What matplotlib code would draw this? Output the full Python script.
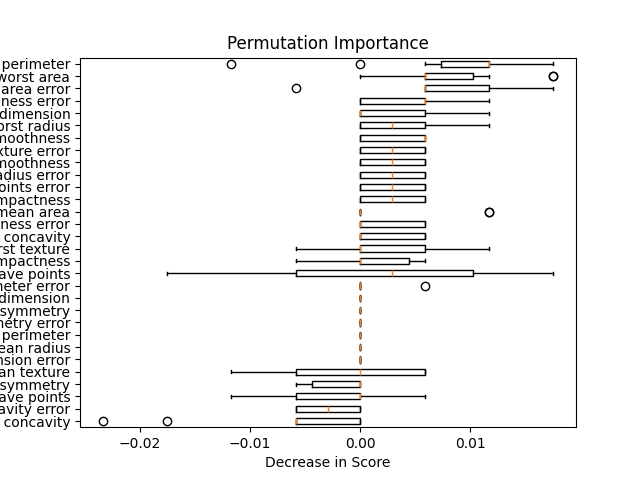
import numpy as np
import matplotlib
matplotlib.use("Agg")
import matplotlib.pyplot as plt

# test set size: every score drop is a whole number of misclassified samples
n_test = 171

# features from top to bottom, with the 10 repeats (in samples) per feature
features = [
    "worst perimeter", "worst area", "area error", "smoothness error",
    "worst fractal dimension", "worst radius", "worst smoothness",
    "texture error", "mean smoothness", "radius error",
    "concave points error", "mean compactness", "mean area",
    "compactness error", "mean concavity", "worst texture",
    "worst compactness", "worst concave points", "perimeter error",
    "mean fractal dimension", "mean symmetry", "symmetry error",
    "mean perimeter", "mean radius", "fractal dimension error",
    "mean texture", "worst symmetry", "mean concave points",
    "concavity error", "worst concavity",
]

repeats = [
    [-2, 0, 1, 2, 2, 2, 2, 2, 2, 3],
    [0, 1, 1, 1, 1, 1, 1, 2, 3, 3],
    [-1, 1, 1, 1, 1, 1, 2, 2, 2, 3],
    [0, 0, 0, 0, 1, 1, 1, 1, 1, 2],
    [0, 0, 0, 0, 0, 0, 1, 1, 1, 2],
    [0, 0, 0, 0, 0, 1, 1, 1, 1, 2],
    [0, 0, 0, 0, 1, 1, 1, 1, 1, 1],
    [0, 0, 0, 0, 0, 1, 1, 1, 1, 1],
    [0, 0, 0, 0, 0, 1, 1, 1, 1, 1],
    [0, 0, 0, 0, 0, 1, 1, 1, 1, 1],
    [0, 0, 0, 0, 0, 1, 1, 1, 1, 1],
    [0, 0, 0, 0, 0, 1, 1, 1, 1, 1],
    [0, 0, 0, 0, 0, 0, 0, 0, 2, 2],
    [0, 0, 0, 0, 0, 0, 1, 1, 1, 1],
    [0, 0, 0, 0, 0, 0, 1, 1, 1, 1],
    [-1, 0, 0, 0, 0, 0, 1, 1, 1, 2],
    [-1, 0, 0, 0, 0, 0, 0, 1, 1, 1],
    [-3, -1, -1, -1, 0, 1, 1, 2, 2, 3],
    [0, 0, 0, 0, 0, 0, 0, 0, 0, 1],
    [0, 0, 0, 0, 0, 0, 0, 0, 0, 0],
    [0, 0, 0, 0, 0, 0, 0, 0, 0, 0],
    [0, 0, 0, 0, 0, 0, 0, 0, 0, 0],
    [0, 0, 0, 0, 0, 0, 0, 0, 0, 0],
    [0, 0, 0, 0, 0, 0, 0, 0, 0, 0],
    [0, 0, 0, 0, 0, 0, 0, 0, 0, 0],
    [-2, -1, -1, -1, 0, 0, 1, 1, 1, 1],
    [-1, -1, -1, 0, 0, 0, 0, 0, 0, 0],
    [-2, -1, -1, -1, 0, 0, 0, 0, 0, 1],
    [-1, -1, -1, -1, -1, 0, 0, 0, 0, 0],
    [-4, -3, -1, -1, -1, -1, 0, 0, 0, 0],
]

# boxplot puts the first box at the bottom
importances = [np.array(r) / n_test for r in reversed(repeats)]
labels = list(reversed(features))

fig, ax = plt.subplots(figsize=(6.4, 4.8), dpi=100)
ax.boxplot(importances, orientation="horizontal", tick_labels=labels)
ax.set_title("Permutation Importance")
ax.set_xlabel("Decrease in Score")

fig.savefig("out.png")
